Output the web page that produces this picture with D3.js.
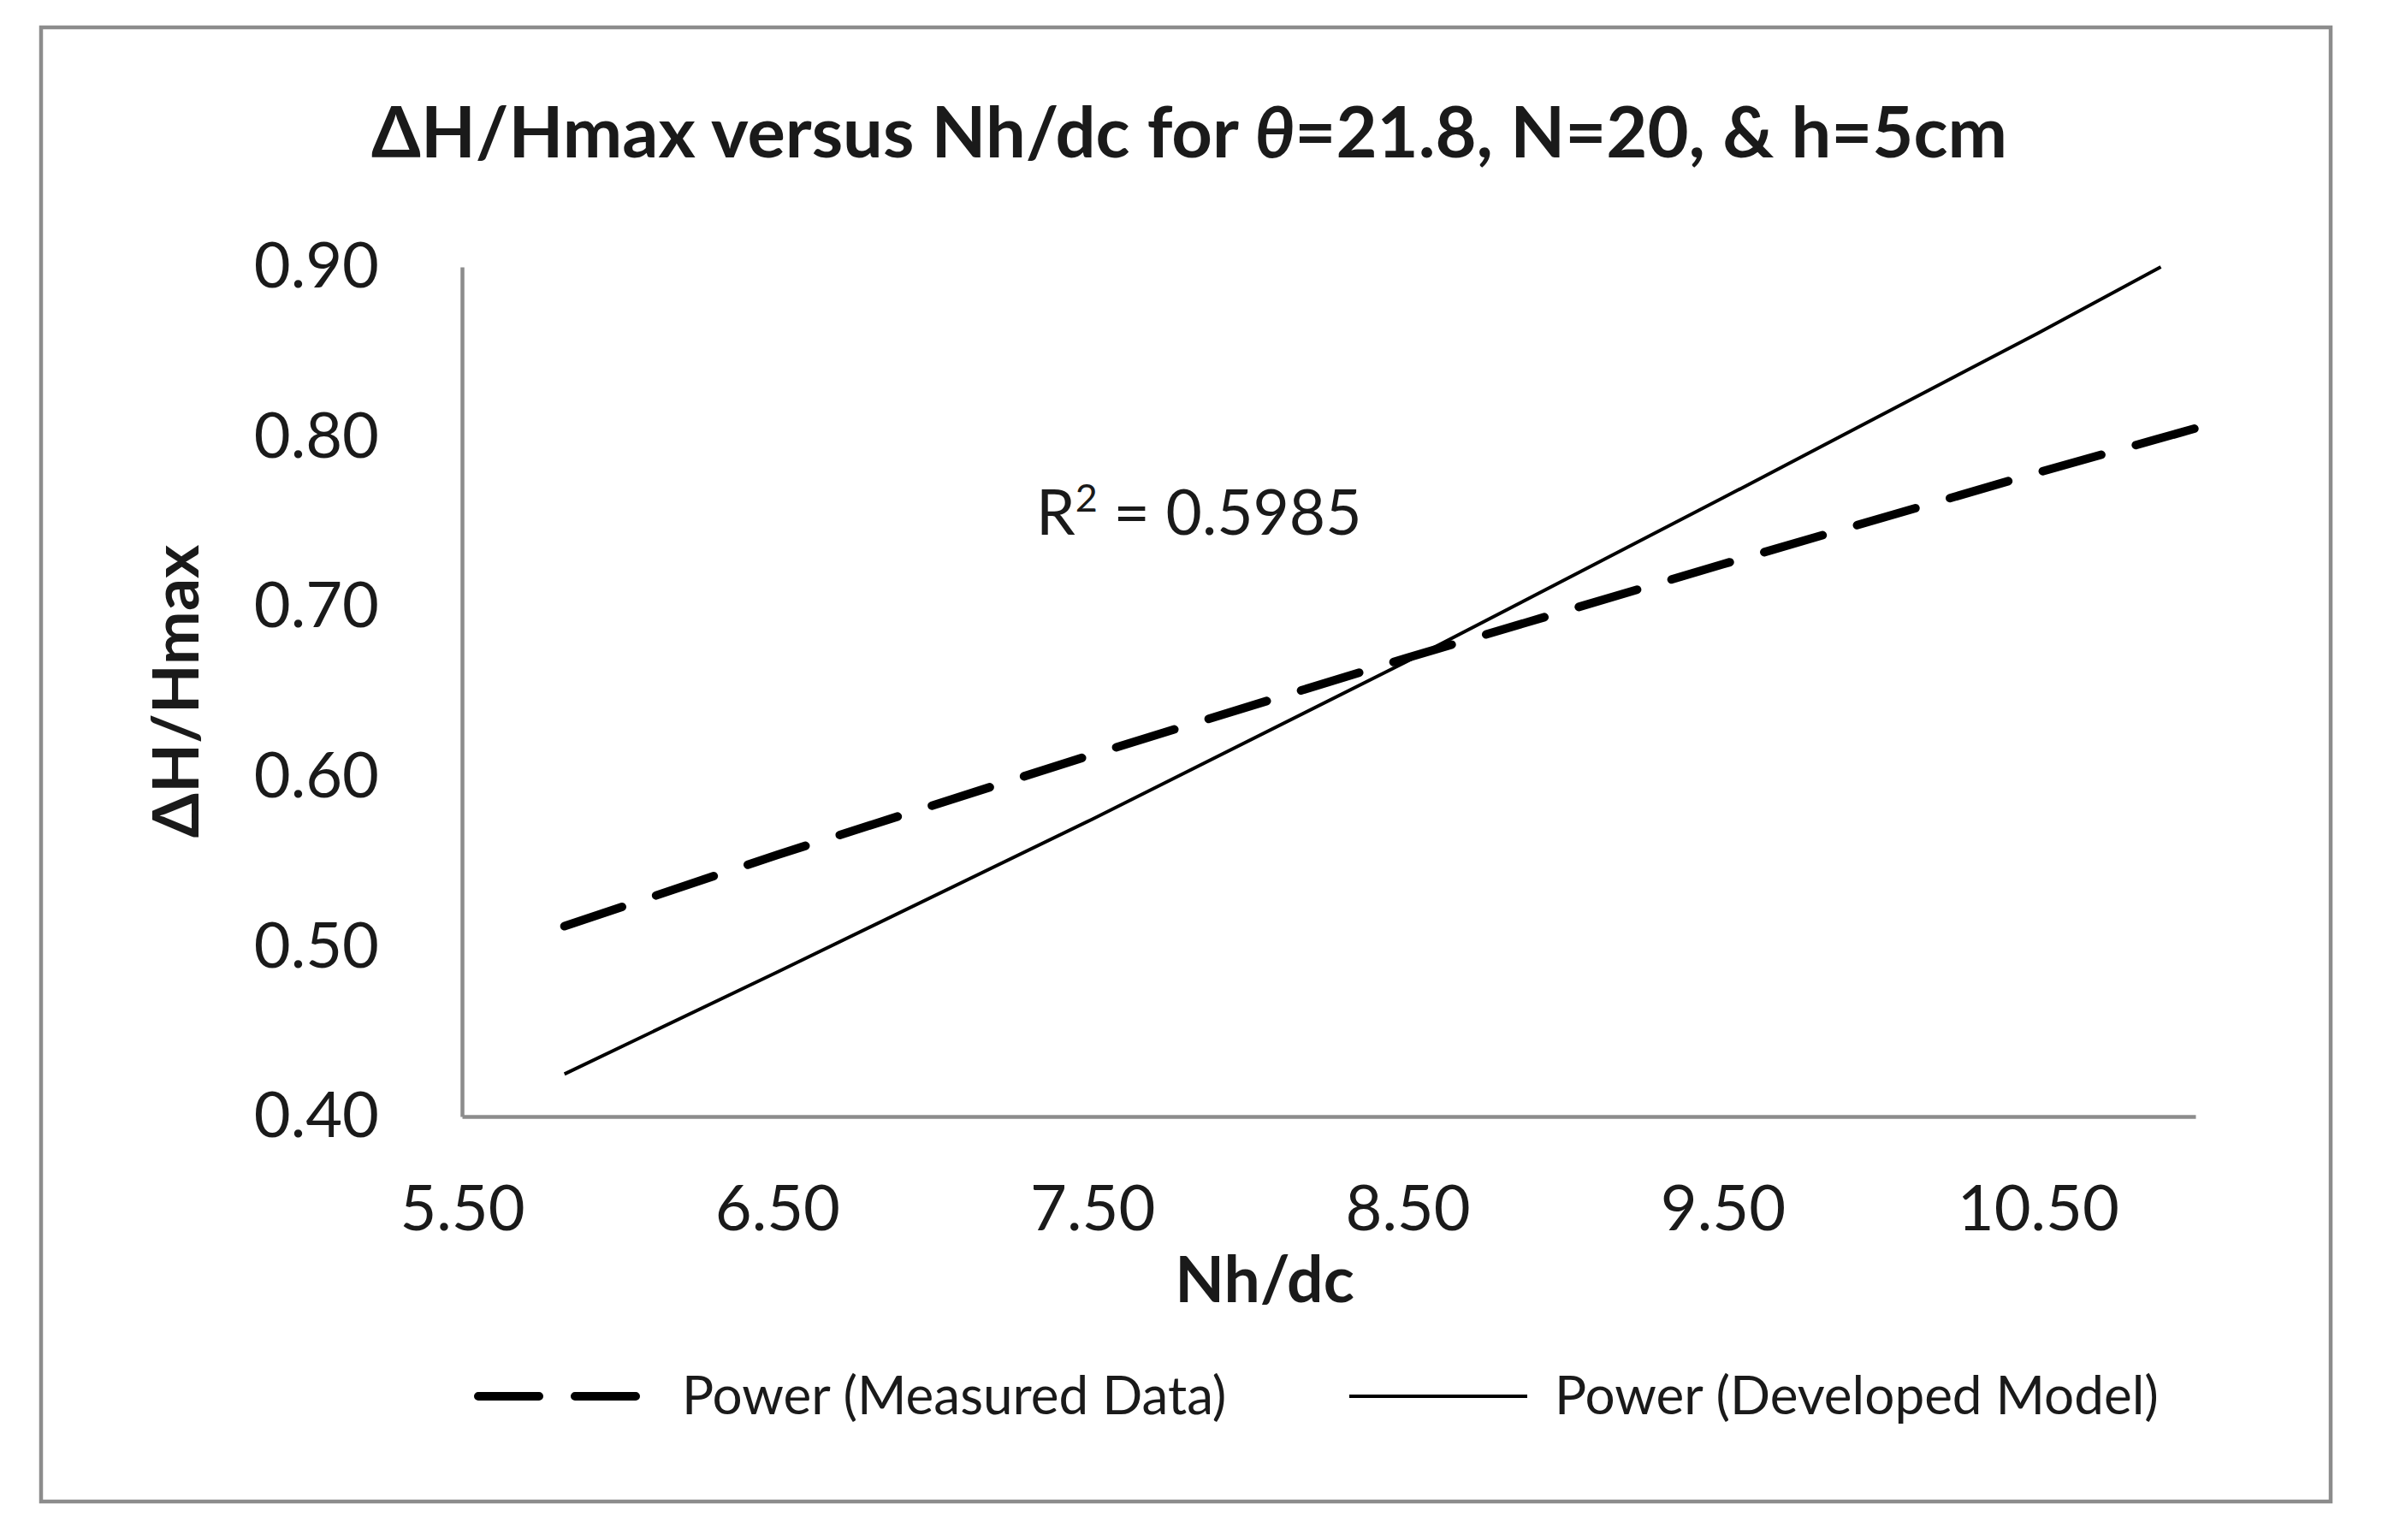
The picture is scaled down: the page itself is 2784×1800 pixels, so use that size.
<!DOCTYPE html>
<html>
<head>
<meta charset="utf-8">
<script src="https://cdn.jsdelivr.net/npm/d3@7"></script>
<style>
  body { margin: 0; background: #fff; }
  text { font-family: Lato, "Open Sans", sans-serif; fill: #1a1a1a; }
</style>
</head>
<body>
<div id="field"></div>
<script>
'use strict';

// tick values
const xTicks = [5.5, 6.5, 7.5, 8.5, 9.5, 10.5];
const yTicks = [0.4, 0.5, 0.6, 0.7, 0.8, 0.9];

const measuredX = [5.825, 6.5, 7.5, 8.5, 9.5, 10.5, 11.0];
const measuredY = [0.512, 0.554, 0.613, 0.670, 0.725, 0.779, 0.805];

// Power (Developed Model) trend line
const modelX = [5.825, 6.5, 7.5, 8.5, 9.5, 10.5, 10.89];
const modelY = [0.425, 0.485, 0.575, 0.668, 0.764, 0.861, 0.900];

const seriesNames = ['Power (Measured Data)', 'Power (Developed Model)'];
const r2Label = '0.5985';

function drawChart(setting) {
  let w = setting.w,
      h = setting.h,
      m = {left: 540, right: 218, top: 312, bottom: 495},
      x = d3.scaleLinear().domain([5.5, 11.0]).range([m.left, w - m.right]),
      y = d3.scaleLinear().domain([0.4, 0.9]).range([h - m.bottom, m.top]),
      svg = d3.select('#field').append('svg').attr('width', w).attr('height', h);

  // outer chart border
  svg.append('rect').attr('x', 48).attr('y', 32).attr('width', 2676).attr('height', 1723)
    .attr('fill', 'none').attr('stroke', '#8c8c8c').attr('stroke-width', 4.5);

  // title
  let title = svg.append('text').attr('x', 1390).attr('y', 184).attr('text-anchor', 'middle')
    .style('font-size', '83px').style('font-weight', 'bold');
  title.append('tspan').text('ΔH/Hmax versus Nh/dc for ');
  title.append('tspan').style('font-style', 'italic').text('θ');
  title.append('tspan').text('=21.8, N=20, & h=5cm');

  // axes
  let xAxis = d3.axisBottom(x).tickValues(xTicks).tickFormat(d3.format('.2f')).tickSize(0).tickPadding(80);
  let yAxis = d3.axisLeft(y).tickValues(yTicks).tickFormat(d3.format('.2f')).tickSize(0).tickPadding(97);

  let gx = svg.append('g').attr('transform', 'translate(0,' + y(0.4) + ')').call(xAxis);
  let gy = svg.append('g').attr('transform', 'translate(' + x(5.5) + ',0)').call(yAxis);
  [gx, gy].forEach(function(g) {
    g.select('.domain').attr('stroke', '#8c8c8c').attr('stroke-width', 4.5);
    g.selectAll('text').style('font-size', '74px').style('font-family', 'Lato, sans-serif').attr('fill', '#1a1a1a');
  });

  // axis titles
  svg.append('text').attr('x', 1478).attr('y', 1522).attr('text-anchor', 'middle')
    .style('font-size', '75px').style('font-weight', 'bold').text('Nh/dc');
  svg.append('text').attr('transform', 'translate(232,808) rotate(-90)').attr('text-anchor', 'middle')
    .style('font-size', '75px').style('font-weight', 'bold').text('ΔH/Hmax');

  // lines
  let line = d3.line().x(function(d){ return x(d[0]); }).y(function(d){ return y(d[1]); });
  let measured = d3.zip(measuredX, measuredY),
      model = d3.zip(modelX, modelY);

  svg.append('path').datum(model).attr('d', line).attr('fill', 'none')
    .attr('stroke', '#000').attr('stroke-width', 4);
  svg.append('path').datum(measured).attr('d', line).attr('fill', 'none')
    .attr('stroke', '#000').attr('stroke-width', 10).attr('stroke-linecap', 'round')
    .attr('stroke-dasharray', '71,42');

  // R squared label
  let r2 = svg.append('text').attr('x', 1211).attr('y', 625).style('font-size', '73px');
  r2.append('tspan').text('R');
  r2.append('tspan').attr('dy', -27).style('font-size', '45px').text('2');
  r2.append('tspan').attr('dy', 27).text(' = ' + r2Label);

  // legend
  let leg = svg.append('g');
  leg.append('line').attr('x1', 559).attr('x2', 745).attr('y1', 1632).attr('y2', 1632)
    .attr('stroke', '#000').attr('stroke-width', 10).attr('stroke-linecap', 'round')
    .attr('stroke-dasharray', '71,42');
  leg.append('text').attr('x', 797).attr('y', 1653).style('font-size', '62px').text(seriesNames[0]);
  leg.append('line').attr('x1', 1577).attr('x2', 1785).attr('y1', 1632).attr('y2', 1632)
    .attr('stroke', '#000').attr('stroke-width', 4);
  leg.append('text').attr('x', 1817).attr('y', 1653).style('font-size', '62px').text(seriesNames[1]);
}

drawChart({
  w: 2784,
  h: 1800
});
</script>
</body>
</html>
